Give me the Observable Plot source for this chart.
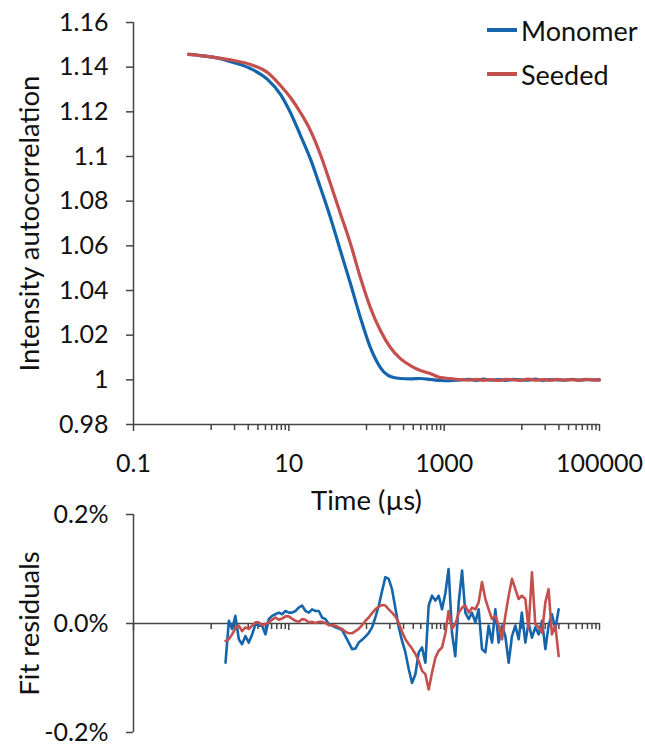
<!DOCTYPE html>
<html><head><meta charset="utf-8">
<script src="https://cdn.jsdelivr.net/npm/d3@7"></script>
<script src="https://cdn.jsdelivr.net/npm/@observablehq/plot@0.6"></script>
<style>
body{margin:0;background:#fff;font-family:Lato, sans-serif;}
#wrap{position:relative;width:645px;height:744px;overflow:hidden;background:#fff;}
.panel{position:absolute;left:0;}
#legend{position:absolute;left:487px;top:8px;font-size:27px;font-family:Lato, sans-serif;color:#111;}
</style></head><body>
<div id="wrap">
  <div id="top" class="panel" style="top:0px"></div>
  <div id="bot" class="panel" style="top:490px"></div>
  <div id="legend"></div>
</div>
<script>
const seriesNames = ["Monomer", "Seeded"];
const seriesColors = ["#1565ac", "#c4504e"];
const xTitle = "Time (µs)";
const yTitleTop = "Intensity autocorrelation";
const yTitleBottom = "Fit residuals";

// Top panel: intensity autocorrelation vs time (µs)
const curveTime = [0.511,0.728,1.14,1.94,3.20,5.31,7.80,10.5,14.1,19.0,25.5,34.3,46.1,62.1,83.4,112,151,203,273,367,494,664,893,1200,1620,
  2100,2600,3200,4000,5000,6200,7700,9500,12000,15000,18500,23000,28500,35000,44000,54000,67000,82000,100000];
const monomerG = [1.1457,1.1452,1.1443,1.1421,1.1394,1.1345,1.1278,1.1196,1.1095,1.0988,1.0861,1.0727,1.0579,1.0431,1.0279,1.0145,1.0055,1.0015,1.0006,1.0004,1.0006,1.0002,0.9997,0.9996,1.0000,
  1.0002,0.9998,1.0003,0.9999,1.0001,0.9998,1.0002,1.0000,0.9999,1.0003,0.9998,1.0001,1.0000,0.9999,1.0002,0.9999,1.0001,1.0000,1.0001];
const seededG = [1.1457,1.1452,1.1443,1.1430,1.1412,1.1376,1.1318,1.1264,1.1197,1.1116,1.1009,1.0879,1.0745,1.0610,1.0458,1.0324,1.0221,1.0145,1.0095,1.0064,1.0042,1.0028,1.0010,1.0006,1.0001,
  0.9999,1.0002,0.9998,1.0001,0.9997,1.0002,1.0000,0.9998,1.0003,0.9999,1.0001,0.9998,1.0002,0.9999,1.0001,0.9998,1.0002,1.0000,0.9999];

// Bottom panel: fit residuals (%)
const residTime = [1.53,1.69,1.86,2.05,2.27,2.50,2.76,3.05,3.37,3.72,4.10,4.53,5.00,5.52,6.09,6.72,7.42,8.19,9.04,9.98,
  11.0,12.2,13.4,14.8,16.4,18.1,19.9,22.0,24.3,26.8,29.6,32.7,36.1,39.8,43.9,48.5,53.5,59.1,65.2,72.0,
  79.4,87.7,96.8,107,118,130,144,159,175,193,213,235,260,287,317,350,386,426,470,519,
  573,632,698,770,850,939,1040,1140,1260,1390,1540,1700,1870,2070,2280,2520,2780,3070,3390,3740,
  4130,4560,5030,5560,6130,6770,7470,8250,9100,10000,11100,12200,13500,14900,16500,18200,20100,22100,24400,27000,29800];
const monomerResid = [-0.072,0.005,-0.010,0.014,-0.029,-0.038,-0.023,-0.035,-0.020,-0.001,-0.004,-0.004,-0.020,0.008,0.014,0.017,0.020,0.017,0.023,0.020,
  0.020,0.023,0.029,0.033,0.023,0.020,0.026,0.023,0.023,0.011,0.008,-0.001,-0.004,-0.007,-0.009,-0.012,-0.023,-0.035,-0.047,-0.046,
  -0.035,-0.030,-0.024,-0.017,-0.007,0.011,0.033,0.060,0.085,0.082,0.063,0.029,-0.007,-0.032,-0.053,-0.084,-0.109,-0.093,-0.053,-0.044,
  -0.072,0.033,0.051,0.042,0.051,0.026,0.057,0.100,-0.017,-0.060,0.039,0.097,0.020,0.008,0.020,0.002,0.026,-0.047,-0.053,-0.004,
  -0.035,0.026,-0.035,-0.004,-0.023,-0.072,-0.023,-0.004,-0.029,0.020,-0.035,0.002,-0.026,-0.007,-0.020,0.005,-0.047,-0.004,0.017,-0.010,0.026];
const seededResid = [-0.032,-0.029,-0.020,-0.009,-0.004,-0.014,-0.007,-0.010,-0.004,0.002,0.002,-0.003,-0.001,0.002,0.007,0.011,0.007,0.009,0.013,0.013,
  0.009,0.005,0.003,0.008,0.007,0.002,0.003,0.001,0.003,0.003,0.001,-0.003,-0.003,-0.004,-0.007,-0.010,-0.015,-0.018,-0.018,-0.014,
  -0.010,-0.003,0.005,0.011,0.019,0.026,0.031,0.034,0.033,0.026,0.020,0.013,0.001,-0.015,-0.029,-0.038,-0.046,-0.056,-0.069,-0.087,
  -0.093,-0.121,-0.090,-0.063,-0.050,-0.044,-0.017,0.023,-0.010,-0.001,0.020,0.029,0.033,0.020,0.029,0.026,0.039,0.076,0.045,0.026,
  0.008,0.014,-0.004,-0.029,0.014,0.051,0.082,0.063,0.045,0.051,0.045,-0.010,0.094,-0.001,-0.007,-0.017,0.039,0.063,-0.020,-0.004,-0.060];

// Axis ticks
const majorTicks = [0.1, 10, 1000, 100000];
const minorTicks = [1,2,3,4,5,6,7,8,9,100,200,300,400,500,600,700,800,900,10000,20000,30000,40000,50000,60000,70000,80000,90000];
const gTicks = [0.98,1,1.02,1.04,1.06,1.08,1.1,1.12,1.14,1.16];
const residTicks = [-0.2, 0, 0.2];

const topData = [
  ...curveTime.map((t,i)=>({t, v: monomerG[i], series: seriesNames[0]})),
  ...curveTime.map((t,i)=>({t, v: seededG[i], series: seriesNames[1]}))
];
const residData = [
  ...residTime.map((t,i)=>({t, r: monomerResid[i], series: seriesNames[0]})),
  ...residTime.map((t,i)=>({t, r: seededResid[i], series: seriesNames[1]}))
];

const axisColor = "#444";
const textColor = "#111";
const font = "Lato, sans-serif";
const baseStyle = {background:"transparent", overflow:"visible", fontFamily:font, fontSize:"25px", color:textColor};

const topPlot = Plot.plot({
  width:645, height:510, marginLeft:133, marginRight:46, marginTop:22, marginBottom:86,
  style: baseStyle,
  x:{type:"log", domain:[0.1,100000]},
  y:{domain:[0.98,1.16]},
  color:{domain:seriesNames, range:seriesColors},
  marks:[
    Plot.ruleY([0.98],{stroke:axisColor, strokeWidth:1.5}),
    Plot.ruleX([0.1],{stroke:axisColor, strokeWidth:1.5}),
    Plot.axisX({ticks:majorTicks, tickSize:7, tickPadding:23, tickFormat:d=>String(d), fontSize:25, stroke:axisColor, strokeWidth:1.5, label:null}),
    Plot.axisX({ticks:minorTicks, tickSize:6, tickFormat:()=>"", stroke:axisColor, strokeWidth:1.5, label:null}),
    Plot.axisY({ticks:gTicks, tickSize:7, tickPadding:18, tickFormat:d=>String(Math.round(d*100)/100), fontSize:25, stroke:axisColor, strokeWidth:1.5, label:null}),
    Plot.text([xTitle],{text:d=>d, frameAnchor:"bottom", dy:77, textAnchor:"middle", lineAnchor:"middle", fontSize:27.5, fill:textColor}),
    Plot.text([yTitleTop],{text:d=>d, frameAnchor:"left", dx:-103, rotate:-90, textAnchor:"middle", lineAnchor:"middle", fontSize:27.5, fill:textColor}),
    Plot.line(topData,{x:"t", y:"v", z:"series", stroke:"series", strokeWidth:3.2, curve:"monotone-x"})
  ]
});
document.getElementById("top").appendChild(topPlot);

const botPlot = Plot.plot({
  width:645, height:254, marginLeft:133, marginRight:46, marginTop:24, marginBottom:12,
  style: baseStyle,
  x:{type:"log", domain:[0.1,100000], axis:null},
  y:{domain:[-0.2,0.2]},
  color:{domain:seriesNames, range:seriesColors},
  marks:[
    Plot.ruleX([0.1],{y1:-0.2, y2:0.2, stroke:axisColor, strokeWidth:1.5}),
    Plot.ruleY([0],{stroke:axisColor, strokeWidth:1.5}),
    Plot.ruleX(majorTicks,{x:d=>d, y1:0, y2:0, insetBottom:-7, stroke:axisColor, strokeWidth:1.5}),
    Plot.ruleX(minorTicks,{x:d=>d, y1:0, y2:0, insetBottom:-6, stroke:axisColor, strokeWidth:1.5}),
    Plot.axisY({ticks:residTicks, tickSize:7, tickPadding:18, tickFormat:d=>d.toFixed(1)+"%", fontSize:25, stroke:axisColor, strokeWidth:1.5, label:null}),
    Plot.text([yTitleBottom],{text:d=>d, frameAnchor:"left", dx:-103, rotate:-90, textAnchor:"middle", lineAnchor:"middle", fontSize:27.5, fill:textColor}),
    Plot.line(residData,{x:"t", y:"r", z:"series", stroke:"series", strokeWidth:2.6})
  ]
});
document.getElementById("bot").appendChild(botPlot);

const legend = document.getElementById("legend");
seriesNames.forEach((n,i)=>{
  const row = document.createElement("div");
  row.style.cssText = "display:flex;align-items:center;height:44px;white-space:nowrap";
  row.innerHTML = `<span style="display:inline-block;width:30px;height:4px;background:${seriesColors[i]};margin-right:4px"></span><span>${n}</span>`;
  legend.appendChild(row);
});
</script>
</body></html>
